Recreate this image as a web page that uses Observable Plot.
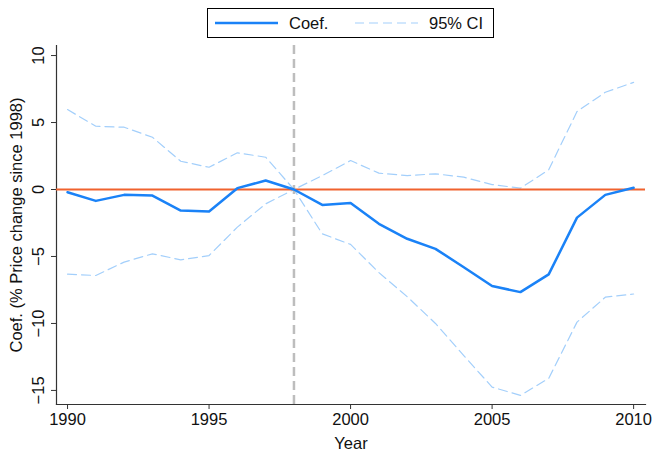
<!DOCTYPE html>
<html>
<head>
<meta charset="utf-8">
<script src="https://cdn.jsdelivr.net/npm/d3@7"></script>
<script src="https://cdn.jsdelivr.net/npm/@observablehq/plot@0.6"></script>
<style>
  html, body { margin: 0; padding: 0; background: #fff; }
  body { width: 655px; height: 450px; overflow: hidden; font-family: "Liberation Sans", Arial, sans-serif; }
  #legend { position: relative; height: 42px; }
  #legend .box { position: absolute; left: 207px; top: 8px; width: 285px; height: 28px; border: 1px solid #000; }
  #legend .item { position: absolute; top: 0; height: 28px; display: flex; align-items: center; font-size: 16.5px; color: #111; }
  #chart svg { display: block; }
</style>
</head>
<body>
<div id="legend">
  <div class="box">
    <div class="item" style="left:7px">
      <svg width="64" height="6"><line x1="0" y1="3" x2="63" y2="3" stroke="#1a82f7" stroke-width="2.5"/></svg>
      <span style="margin-left:10px">Coef.</span>
    </div>
    <div class="item" style="left:147px">
      <svg width="64" height="6"><line x1="0" y1="3" x2="63" y2="3" stroke="#a3cffb" stroke-width="1.2" stroke-dasharray="9 5"/></svg>
      <span style="margin-left:10px">95% CI</span>
    </div>
  </div>
</div>
<div id="chart"></div>
<script>
const years = [1990, 1991, 1992, 1993, 1994, 1995, 1996, 1997, 1998, 1999, 2000,
               2001, 2002, 2003, 2004, 2005, 2006, 2007, 2008, 2009, 2010];
const coef  = [-0.2, -0.85, -0.4, -0.45, -1.57, -1.64, 0.1, 0.67, 0, -1.15, -1.0,
               -2.56, -3.68, -4.43, -5.8, -7.2, -7.66, -6.34, -2.1, -0.4, 0.13];
const upper = [5.97, 4.72, 4.65, 3.9, 2.11, 1.66, 2.74, 2.41, 0, 1.04, 2.16,
               1.22, 1.04, 1.17, 0.92, 0.37, 0.1, 1.47, 5.82, 7.26, 8.0];
const lower = [-6.32, -6.42, -5.42, -4.8, -5.25, -4.93, -2.81, -1.07, 0, -3.31, -4.1,
               -6.2, -8.0, -10.0, -12.4, -14.75, -15.37, -14.1, -9.9, -8.04, -7.8];
const xTicks = [1990, 1995, 2000, 2005, 2010];
const yTicks = [-15, -10, -5, 0, 5, 10];
const refYear = 1998;
const refValue = 0;
const xDomain = [1989.61, 2010.42];
const yDomain = [-16.05, 10.75];

const rows = years.map((y, i) => ({year: y, coef: coef[i], upper: upper[i], lower: lower[i]}));

const chart = Plot.plot({
  width: 655,
  height: 408,
  marginTop: 3,
  marginBottom: 46,
  marginLeft: 56,
  marginRight: 10,
  style: {fontFamily: "'Liberation Sans', Arial, sans-serif", fontSize: "16.5px", color: "#111", background: "#fff"},
  x: {domain: xDomain},
  y: {domain: yDomain},
  marks: [
    Plot.frame({anchor: "left", stroke: "#333", strokeWidth: 1.2}),
    Plot.frame({anchor: "bottom", stroke: "#333", strokeWidth: 1.2}),
    Plot.line(rows, {x: "year", y: "upper", stroke: "#a3cffb", strokeWidth: 1.2, strokeDasharray: "9 5"}),
    Plot.line(rows, {x: "year", y: "lower", stroke: "#a3cffb", strokeWidth: 1.2, strokeDasharray: "9 5"}),
    Plot.ruleY([refValue], {stroke: "#f0622e", strokeWidth: 2}),
    Plot.ruleX([refYear], {stroke: "#bdbdbd", strokeWidth: 2.5, strokeDasharray: "9 5"}),
    Plot.line(rows, {x: "year", y: "coef", stroke: "#1a82f7", strokeWidth: 2.5}),
    Plot.axisX({ticks: xTicks, tickFormat: d3.format("d"), tickSize: 5, tickPadding: 4, stroke: "#333",
                label: "Year", labelAnchor: "center", labelOffset: 44, labelArrow: "none", fontSize: 16.5}),
    Plot.axisY({ticks: yTicks, tickSize: 5, tickRotate: -90, tickPadding: 8, stroke: "#333",
                label: "Coef. (% Price change since 1998)", labelAnchor: "center", labelOffset: 46, labelArrow: "none", fontSize: 16.5})
  ]
});
document.getElementById("chart").appendChild(chart);
</script>
</body>
</html>
